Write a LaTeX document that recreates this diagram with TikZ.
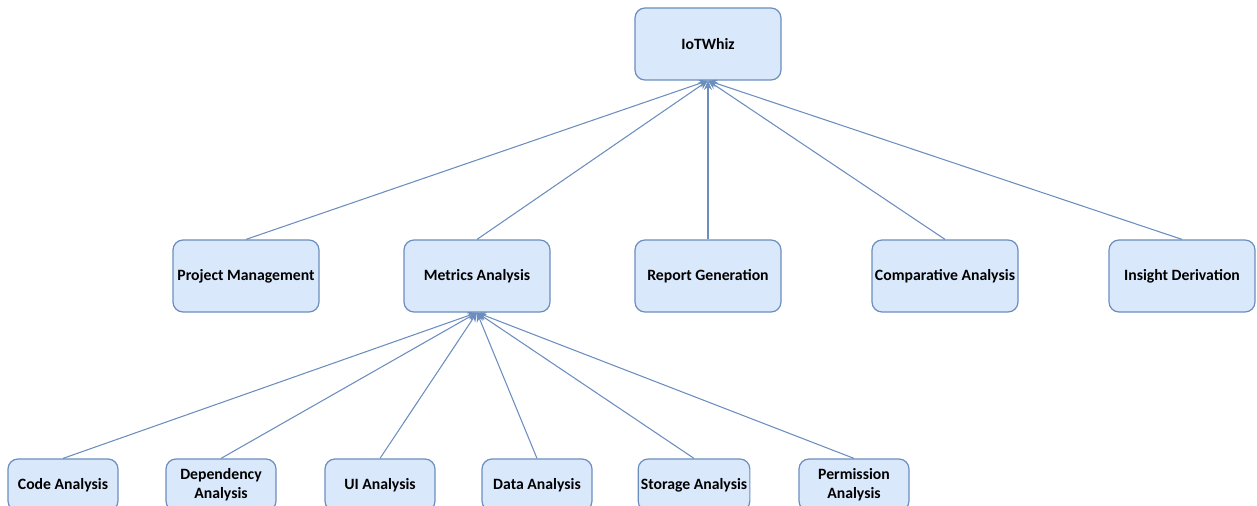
\documentclass[tikz,border=0pt]{standalone}
\usepackage{fontspec}
\setmainfont{Carlito}
\usetikzlibrary{arrows.meta}
\definecolor{boxfill}{HTML}{DAE8FC}
\definecolor{boxline}{HTML}{6C8EBF}
\begin{document}
\begin{tikzpicture}[x=0.75pt,y=-0.75pt,
  box/.style={draw=boxline, fill=boxfill, rounded corners=7.5pt, line width=0.9pt,
    minimum width=109.5pt, minimum height=54pt, align=center, inner sep=2pt,
    font=\fontsize{11.8}{14.5}\selectfont\bfseries},
  leaf/.style={box, minimum width=82.5pt, minimum height=39pt},
  link/.style={draw=boxline, line width=0.8pt, -{Stealth[length=7pt,width=6pt]}}]
\useasboundingbox (0,0) rectangle (1257,506);
\begin{scope}
\clip (0,0) rectangle (1257,506);
% root
\node[box] (root) at (708,44) {IoTWhiz};
% second level
\node[box] (pm) at (246,276) {Project Management};
\node[box] (ma) at (477,276) {Metrics Analysis};
\node[box] (rg) at (708,276) {Report Generation};
\node[box] (ca) at (945,276) {Comparative Analysis};
\node[box] (id) at (1182,276) {Insight Derivation};
% metrics sub-analyses
\node[leaf] (code) at (63,485) {Code Analysis};
\node[leaf] (dep) at (221,485) {Dependency\\Analysis};
\node[leaf] (ui) at (380,485) {UI Analysis};
\node[leaf] (data) at (537,485) {Data Analysis};
\node[leaf] (stor) at (694,485) {Storage Analysis};
\node[leaf] (perm) at (854,485) {Permission\\Analysis};
\end{scope}
% connectors
\foreach \c in {pm,ma,rg,ca,id}
  \draw[link] (\c.north) -- (root.south);
\foreach \c in {code,dep,ui,data,stor,perm}
  \draw[link] (\c.north) -- (ma.south);
\end{tikzpicture}
\end{document}
